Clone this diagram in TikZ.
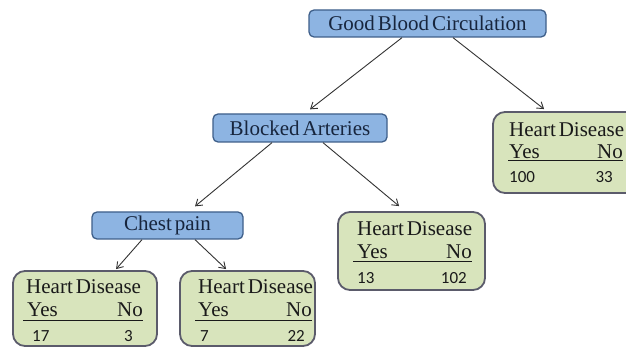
\documentclass[tikz,border=0pt]{standalone}
\usepackage{fontspec}
\setmainfont{Liberation Serif}
\newfontfamily\numfont{Carlito}
\usetikzlibrary{arrows.meta}

\definecolor{bluefill}{HTML}{8DB4E2}
\definecolor{blueedge}{HTML}{3E5F8A}
\definecolor{navy}{HTML}{17253D}
\definecolor{leaffill}{HTML}{D8E4BC}
\definecolor{leafedge}{HTML}{5B5B6B}
\definecolor{ink}{HTML}{1A1A1A}
\definecolor{linkgray}{HTML}{333333}

% narrower interword space for the box labels
\newcommand\tightwords{\spaceskip=0.14em plus 0.05em minus 0.05em\relax}

\begin{document}
\begin{tikzpicture}[x=1pt,y=-1pt,
  decision/.style={draw=blueedge, fill=bluefill, line width=1.3pt, rounded corners=5pt,
    inner sep=0pt, font=\rmfamily\fontsize{21}{24}\selectfont\tightwords, text=navy},
  leafbox/.style={draw=leafedge, fill=leaffill, line width=1.8pt, rounded corners=12pt, inner sep=0pt},
  caption/.style={inner sep=0pt, font=\rmfamily\fontsize{21}{24}\selectfont\tightwords, text=ink},
  count/.style={inner sep=0pt, font=\numfont\fontsize{17}{20}\selectfont, text=ink},
  link/.style={draw=linkgray, line width=0.9pt, -{Straight Barb[length=6pt,width=8pt]}},
  tablerule/.style={draw=ink, line width=1pt}
]
\fill[white] (0,0) rectangle (626,347);
\useasboundingbox (0,0) rectangle (626,347);

% decision nodes
\node[decision, minimum width=237pt, minimum height=27pt] (gbc) at (427.5,23.5) {Good Blood Circulation};
\node[decision, minimum width=174pt, minimum height=28pt] (ba) at (300,128) {Blocked Arteries};
\node[decision, minimum width=151pt, minimum height=27pt] (cp) at (167.5,225.5) {Chest pain};

% leaf boxes
\node[leafbox, minimum width=157pt, minimum height=81pt] (leafA) at (571.5,152.5) {};
\node[leafbox, minimum width=147pt, minimum height=78pt] (leafB) at (411.5,251) {};
\node[leafbox, minimum width=144pt, minimum height=75pt] (leafC) at (85,308.5) {};
\node[leafbox, minimum width=135pt, minimum height=75pt] (leafD) at (247.5,308.5) {};

% leaf A contents
\node[caption, anchor=west] (leafA-t) at (509,130) {Heart Disease};
\node[caption, anchor=west] (leafA-y) at (509,152) {Yes};
\node[caption, anchor=east] (leafA-n) at (623,152) {No};
\draw[tablerule] (508,161) -- (623,161);
\node[count, anchor=west] (leafA-yv) at (509,177) {100};
\node[count, anchor=east] (leafA-nv) at (613,177) {33};

% leaf B contents
\node[caption, anchor=west] (leafB-t) at (357,229) {Heart Disease};
\node[caption, anchor=west] (leafB-y) at (357,252) {Yes};
\node[caption, anchor=east] (leafB-n) at (472,252) {No};
\draw[tablerule] (353,262) -- (472,262);
\node[count, anchor=west] (leafB-yv) at (357,278) {13};
\node[count, anchor=east] (leafB-nv) at (467,278) {102};

% leaf C contents
\node[caption, anchor=west] (leafC-t) at (26,287) {Heart Disease};
\node[caption, anchor=west] (leafC-y) at (27,310) {Yes};
\node[caption, anchor=east] (leafC-n) at (143,310) {No};
\draw[tablerule] (23,320) -- (143,320);
\node[count, anchor=west] (leafC-yv) at (32,336) {17};
\node[count, anchor=east] (leafC-nv) at (133,336) {3};

% leaf D contents
\node[caption, anchor=west] (leafD-t) at (198,287) {Heart Disease};
\node[caption, anchor=west] (leafD-y) at (198,310) {Yes};
\node[caption, anchor=east] (leafD-n) at (312,310) {No};
\draw[tablerule] (195,320) -- (312,320);
\node[count, anchor=west] (leafD-yv) at (200,336) {7};
\node[count, anchor=east] (leafD-nv) at (305,336) {22};

% connectors
\draw[link] ([xshift=-25.5pt]gbc.south) -- ([xshift=10pt,yshift=4pt]ba.north);
\draw[link] ([xshift=25.5pt]gbc.south) -- ([xshift=52pt,yshift=2pt]leafA.north west);
\draw[link] ([xshift=-28pt]ba.south) -- ([xshift=27.5pt,yshift=5pt]cp.north);
\draw[link] ([xshift=23pt]ba.south) -- ([xshift=62pt,yshift=5pt]leafB.north west);
\draw[link] ([xshift=-25.5pt]cp.south) -- ([xshift=104pt,yshift=1pt]leafC.north west);
\draw[link] ([xshift=27.5pt]cp.south) -- ([xshift=47pt,yshift=1pt]leafD.north west);
\end{tikzpicture}
\end{document}
